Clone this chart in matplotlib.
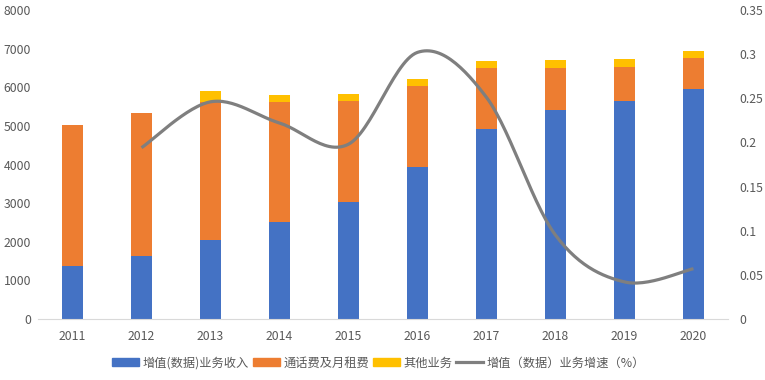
import numpy as np
import matplotlib.pyplot as plt
from matplotlib.patches import Patch
from matplotlib.lines import Line2D

plt.rcParams['font.family'] = ['Noto Sans CJK SC', 'DejaVu Sans']

years = ['2011', '2012', '2013', '2014', '2015', '2016', '2017', '2018', '2019', '2020']
data_rev = [1380, 1630, 2050, 2510, 3030, 3940, 4920, 5410, 5650, 5960]
call_rev = [3650, 3700, 3570, 3110, 2620, 2100, 1580, 1090, 880, 800]
other_rev = [0, 0, 280, 180, 180, 180, 180, 210, 210, 180]
growth_years = years[1:]
growth = [0.194, 0.246, 0.222, 0.198, 0.302, 0.251, 0.095, 0.042, 0.057]

labels = ['增值(数据)业务收入', '通话费及月租费', '其他业务', '增值（数据）业务增速（%）']
colors = ['#4472C4', '#ED7D31', '#FFC000', '#7F7F7F']
text_col = '#595959'


def smooth(xs, ys, n=30):
    # Excel-like smoothed line: Catmull-Rom segments through every point
    xs = np.asarray(xs, float)
    ys = np.asarray(ys, float)
    px = np.concatenate([[xs[0]], xs, [xs[-1]]])
    py = np.concatenate([[ys[0]], ys, [ys[-1]]])
    out_x, out_y = [], []
    t = np.linspace(0, 1, n)
    for i in range(1, len(px) - 2):
        for p, out in ((px, out_x), (py, out_y)):
            p0, p1, p2, p3 = p[i - 1], p[i], p[i + 1], p[i + 2]
            c1 = p1 + (p2 - p0) / 6
            c2 = p2 - (p3 - p1) / 6
            out.extend((1 - t) ** 3 * p1 + 3 * (1 - t) ** 2 * t * c1
                       + 3 * (1 - t) * t ** 2 * c2 + t ** 3 * p2)
    return np.array(out_x), np.array(out_y)


fig = plt.figure(figsize=(7.65, 3.8), dpi=100)
ax = fig.add_axes([0.0497, 0.1605, 0.9019, 0.8132])
x = np.arange(len(years))
w = 0.31
ax.bar(x, data_rev, w, color=colors[0])
ax.bar(x, call_rev, w, bottom=data_rev, color=colors[1])
bottom2 = np.array(data_rev) + np.array(call_rev)
ax.bar(x, other_rev, w, bottom=bottom2, color=colors[2])

ax.set_xlim(-0.5, len(years) - 0.5)
ax.set_ylim(0, 8000)
ax.set_yticks(range(0, 8001, 1000))
ax.set_xticks(x)
ax.set_xticklabels(years)
for s in ['top', 'left', 'right']:
    ax.spines[s].set_visible(False)
ax.spines['bottom'].set_color('#D9D9D9')
ax.tick_params(axis='both', length=0, labelsize=8.8, colors=text_col)
ax.tick_params(axis='y', pad=5)
ax.tick_params(axis='x', pad=8)

ax2 = ax.twinx()
gx = [years.index(y) for y in growth_years]
sx, sy = smooth(gx, growth)
ax2.plot(sx, sy, color=colors[3], lw=2.3, solid_capstyle='butt')
ax2.set_ylim(0, 0.35)
ax2.set_yticks([0, 0.05, 0.1, 0.15, 0.2, 0.25, 0.3, 0.35])
ax2.set_yticklabels(['0', '0.05', '0.1', '0.15', '0.2', '0.25', '0.3', '0.35'])
for s in ['top', 'left', 'right', 'bottom']:
    ax2.spines[s].set_visible(False)
ax2.tick_params(axis='y', length=0, labelsize=8.8, colors=text_col, pad=8)

handles = [Patch(color=colors[0]), Patch(color=colors[1]), Patch(color=colors[2]),
           Line2D([0], [0], color=colors[3], lw=2.3)]
fig.legend(handles, labels, loc='center', bbox_to_anchor=(0.495, 0.045), ncol=4,
           frameon=False, fontsize=8.8, labelcolor=text_col, handlelength=2.2,
           handleheight=0.7, handletextpad=0.3, columnspacing=0.3)

fig.savefig('out.png', dpi=100)
